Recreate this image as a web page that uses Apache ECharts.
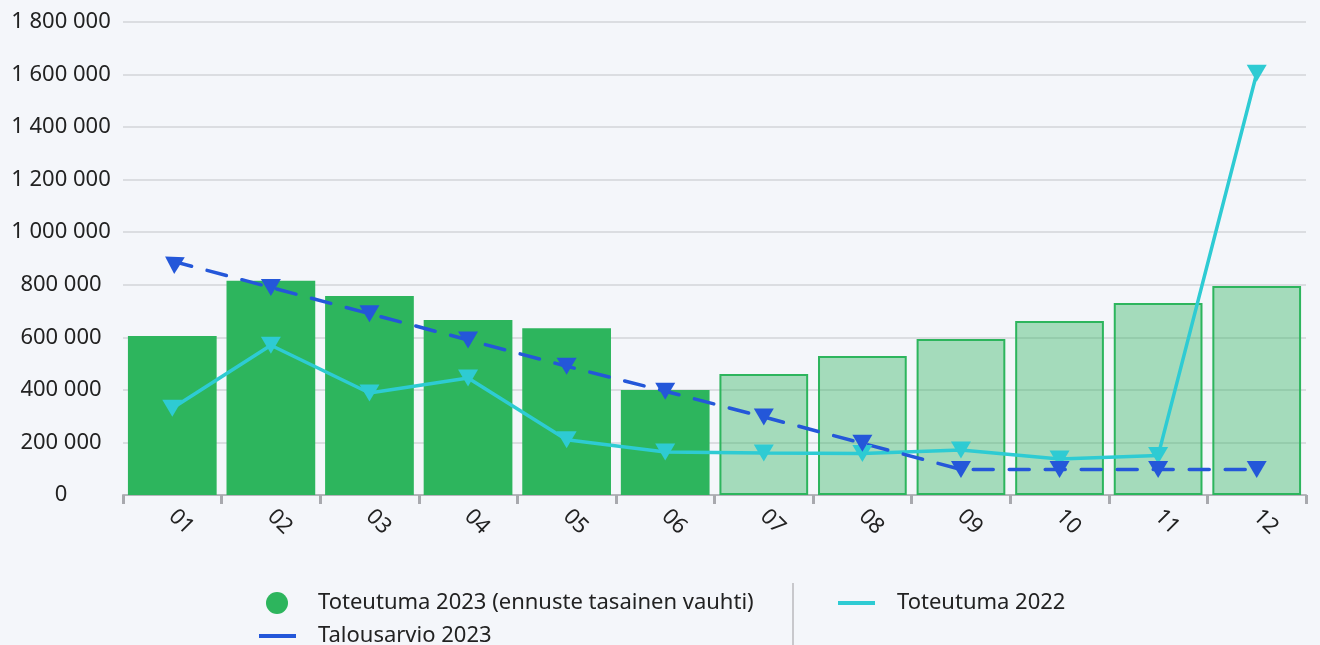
<!DOCTYPE html>
<html>
<head>
<meta charset="utf-8">
<script src="https://cdn.jsdelivr.net/npm/echarts@6/dist/echarts.min.js"></script>
<style>
  html, body { margin: 0; padding: 0; background: #f4f6fa; }
  #chart { width: 1320px; height: 645px; }
</style>
</head>
<body>
<div id="chart"></div>
<script>
var months = ["01", "02", "03", "04", "05", "06", "07", "08", "09", "10", "11", "12"];
// toteutuma 2023, kuukaudet 07-12 ovat ennustetta
var toteutuma2023 = [605000, 815000, 757000, 666000, 635000, 400000, 460000, 529000, 594000, 662000, 731000, 795000];
var ennusteAlkaa = 6;
var toteutuma2022 = [330000, 570000, 388000, 445000, 210000, 164000, 160000, 158000, 171000, 137000, 150000, 1605000];
var talousarvio2023 = [890000, 790000, 690000, 590000, 490000, 395000, 297000, 197000, 97000, 97000, 97000, 97000];

var GREEN = "#2db55d";
var CYAN = "#2ecbd3";
var BLUE = "#2457d9";
var FONT = "Noto Sans";

function fmt(v) {
  return String(v).replace(/\B(?=(\d{3})+(?!\d))/g, " ");
}

var chart = echarts.init(document.getElementById("chart"));

var barData = toteutuma2023.map(function (v, i) {
  if (i < ennusteAlkaa) return v;
  return {
    value: v,
    itemStyle: { color: "rgba(45,181,93,0.4)", borderColor: GREEN, borderWidth: 2 }
  };
});

var budgetData = talousarvio2023.map(function (v, i) {
  // ensimmäinen merkki osoittaa viivan suuntaan
  if (i === 0) return { value: v, symbolRotate: 58 };
  return v;
});

var legendText = { fontSize: 22, color: "#222", fontFamily: FONT, padding: [0, 0, 0, 17] };

var option = {
  backgroundColor: "#f4f6fa",
  textStyle: { fontFamily: FONT },
  grid: { left: 123, right: 14, top: 22, bottom: 150 },
  legend: [
    {
      data: ["Toteutuma 2023 (ennuste tasainen vauhti)"],
      left: 261, top: 587,
      icon: "circle", itemWidth: 38, itemHeight: 22,
      textStyle: legendText
    },
    {
      data: [{ name: "Talousarvio 2023", itemStyle: { color: BLUE, borderWidth: 0 } }],
      left: 254, top: 620,
      icon: "rect", itemWidth: 37, itemHeight: 4,
      itemStyle: { borderWidth: 0 },
      lineStyle: { type: "solid" },
      textStyle: legendText
    },
    {
      data: [{ name: "Toteutuma 2022", itemStyle: { color: CYAN, borderWidth: 0 } }],
      left: 833, top: 587,
      icon: "rect", itemWidth: 37, itemHeight: 4,
      itemStyle: { borderWidth: 0 },
      textStyle: legendText
    }
  ],
  graphic: [
    {
      type: "line",
      shape: { x1: 793, y1: 583, x2: 793, y2: 645 },
      style: { stroke: "#c8c8cc", lineWidth: 2 }
    }
  ],
  xAxis: {
    type: "category",
    data: months,
    axisLine: { lineStyle: { color: "#b4b5ba", width: 2 } },
    axisTick: { show: true, length: 9, lineStyle: { color: "#a8a9ae", width: 3 } },
    axisLabel: { rotate: -45, margin: 18, fontSize: 22, color: "#222", fontFamily: FONT },
    splitLine: { show: false }
  },
  yAxis: {
    type: "value",
    min: 0,
    max: 1800000,
    interval: 200000,
    axisLine: { show: false },
    axisTick: { show: false },
    axisLabel: {
      align: "center", margin: 62, fontSize: 22, color: "#222", fontFamily: FONT,
      formatter: fmt
    },
    splitLine: { lineStyle: { color: "#d3d4d9", width: 1.5 } }
  },
  series: [
    {
      name: "Toteutuma 2023 (ennuste tasainen vauhti)",
      type: "bar",
      data: barData,
      barCategoryGap: "10%",
      itemStyle: { color: GREEN }
    },
    {
      name: "Toteutuma 2022",
      type: "line",
      data: toteutuma2022,
      symbol: "triangle",
      symbolRotate: 180,
      symbolSize: [20, 17],
      showAllSymbol: true,
      lineStyle: { color: CYAN, width: 3.5 },
      itemStyle: { color: CYAN }
    },
    {
      name: "Talousarvio 2023",
      type: "line",
      data: budgetData,
      symbol: "triangle",
      symbolRotate: 180,
      symbolSize: [20, 17],
      showAllSymbol: true,
      lineStyle: { color: BLUE, width: 3.5, type: [20, 16], cap: "round" },
      itemStyle: { color: BLUE }
    }
  ]
};

chart.setOption(option);
</script>
</body>
</html>
